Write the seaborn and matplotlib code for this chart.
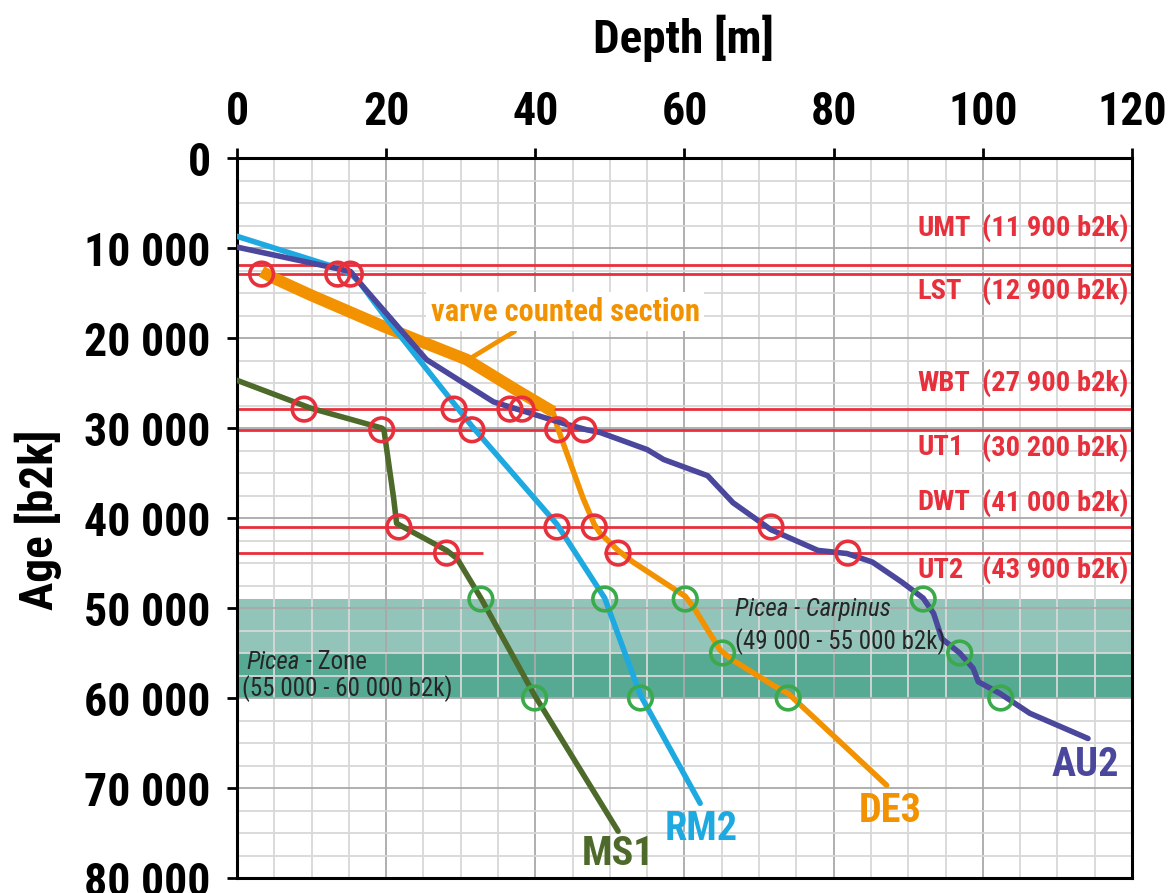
import matplotlib
matplotlib.use("Agg")
import matplotlib.pyplot as plt
from matplotlib import font_manager as fm
from matplotlib.ticker import MultipleLocator, FuncFormatter
import seaborn as sns

# ---- age-depth models (depth in m, age in years b2k) ----
au2_depth = [0.0, 15.2, 16.5, 25.4, 34.4, 43.8, 46.9, 48.7, 55.0, 57.2, 63.1, 66.5,
             71.6, 77.9, 81.8, 85.2, 89.1, 92.0, 93.4, 94.5, 96.9, 98.7, 99.4,
             102.3, 106.3, 114.1]
au2_age = [9900, 12600, 13900, 22400, 27100, 29500, 30200, 30500, 32400, 33500,
           35300, 38300, 41300, 43600, 43950, 44900, 47100, 48900, 50600, 53400,
           55000, 56700, 58200, 59500, 61700, 64500]

rm2_depth = [0.0, 13.8, 15.4, 16.5, 20.0, 31.5, 42.9, 49.3, 54.1, 62.1]
rm2_age = [8700, 12300, 13000, 13900, 17800, 29800, 40700, 48900, 59700, 71700]

ms1_depth = [0.0, 9.9, 19.4, 19.7, 21.0, 21.4, 28.1, 29.5, 32.7, 39.9, 51.1]
ms1_age = [24700, 27800, 30000, 30200, 37800, 40600, 43600, 44500, 48900, 59700, 74800]

de3_depth = [42.4, 43.0, 46.4, 47.9, 48.7, 51.1, 53.1, 60.1, 61.2, 64.8, 66.5,
             71.9, 73.9, 87.1]
de3_age = [28300, 30000, 37800, 40700, 41700, 43600, 44900, 48700, 49900, 54700,
           55800, 58600, 59500, 69700]

# varve counted part of DE3
varve_depth = [3.3, 4.8, 9.8, 19.6, 24.1, 30.8, 37.5, 42.4]
varve_age = [12600, 13300, 15200, 18700, 20200, 22400, 25800, 28200]

# ---- tephra layers ----
tephra_names = ["UMT", "LST", "WBT", "UT1", "DWT", "UT2"]
tephra_ages = [11900, 12900, 27900, 30200, 41000, 43900]
tephra_value_labels = ["(11 900 b2k)", "(12 900 b2k)", "(27 900 b2k)",
                       "(30 200 b2k)", "(41 000 b2k)", "(43 900 b2k)"]
tephra_label_ages = [7800, 14800, 25000, 32200, 38300, 45800]

# tephra found in the cores (depth, tephra age)
tephra_hit_depth = [3.3, 13.5, 15.2,
                    9.0, 29.1, 36.6, 38.2,
                    19.4, 31.5, 43.0, 46.5,
                    21.7, 42.9, 47.9, 71.6,
                    28.1, 51.1, 81.9]
tephra_hit_age = [12900, 12900, 12900,
                  27900, 27900, 27900, 27900,
                  30200, 30200, 30200, 30200,
                  41000, 41000, 41000, 41000,
                  43900, 43900, 43900]

# pollen zone boundaries found in the cores
pollen_hit_depth = [32.7, 49.3, 60.1, 92.0, 65.1, 96.9, 39.9, 54.1, 73.9, 102.4]
pollen_hit_age = [49000, 49000, 49000, 49000, 55000, 55000, 60000, 60000, 60000, 60000]

zone_carpinus = (49000, 55000)
zone_picea = (55000, 60000)

# ---- colours ----
RED = "#e8303c"
PURPLE = "#4a479c"
CYAN = "#1fa9e1"
ORANGE = "#f39200"
OLIVE = "#4e6a2a"
GREEN = "#3aaa4a"
BAND_LIGHT = "#93c4b9"
BAND_DARK = "#56a993"

# narrow sans-serif for all labels
_installed = {f.name for f in fm.fontManager.ttflist}
NARROW = next((f for f in ["Liberation Sans Narrow", "Nimbus Sans Narrow", "Arial Narrow",
                           "Roboto Condensed", "PT Sans Narrow", "Asap Condensed",
                           "Barlow Semi Condensed"] if f in _installed), "DejaVu Sans")

sns.set_style("white")
plt.rcParams["font.family"] = [NARROW, "DejaVu Sans"]
if NARROW == "DejaVu Sans":
    plt.rcParams["font.stretch"] = "condensed"

fig = plt.figure(figsize=(11.7, 8.93), dpi=100)
ax = fig.add_axes([237 / 1170, 15 / 893, 895 / 1170, 720 / 893])

# pollen zones
ax.axhspan(*zone_carpinus, color=BAND_LIGHT, lw=0, zorder=0.2)
ax.axhspan(*zone_picea, color=BAND_DARK, lw=0, zorder=0.2)

# tephra horizons
for name, age in zip(tephra_names, tephra_ages):
    if name == "UT2":
        ax.hlines(age, 0, 33.0, color=RED, lw=2.0, zorder=2)
        ax.hlines(age, 49.2, 120, color=RED, lw=2.0, zorder=2)
    else:
        ax.axhline(age, color=RED, lw=2.0, zorder=2)

for name, val, lab_age in zip(tephra_names, tephra_value_labels, tephra_label_ages):
    ax.text(91.2, lab_age, name, color=RED, fontsize=20.5, fontweight="bold",
            ha="left", va="center", zorder=5)
    ax.text(119.5, lab_age, val, color=RED, fontsize=20.5, fontweight="bold",
            ha="right", va="center", zorder=5)

# age-depth curves
line_kw = dict(sort=False, estimator=None, lw=4.0, zorder=3, solid_capstyle="round")
sns.lineplot(x=varve_depth, y=varve_age, ax=ax, color=ORANGE,
             sort=False, estimator=None, lw=8.5, zorder=3, solid_capstyle="butt")
sns.lineplot(x=ms1_depth, y=ms1_age, ax=ax, color=OLIVE, **line_kw)
sns.lineplot(x=de3_depth, y=de3_age, ax=ax, color=ORANGE, **line_kw)
sns.lineplot(x=rm2_depth, y=rm2_age, ax=ax, color=CYAN, **line_kw)
sns.lineplot(x=au2_depth, y=au2_age, ax=ax, color=PURPLE, **line_kw)

# tie points
sns.scatterplot(x=tephra_hit_depth, y=tephra_hit_age, ax=ax, marker="o", s=290,
                facecolors="none", edgecolors=RED, linewidths=2.6, zorder=4)
sns.scatterplot(x=pollen_hit_depth, y=pollen_hit_age, ax=ax, marker="o", s=290,
                facecolors="none", edgecolors=GREEN, linewidths=2.6, zorder=4)

# core names
core_labels = [("MS1", 51.1, 77300, OLIVE), ("RM2", 62.3, 74500, CYAN),
               ("DE3", 87.6, 72600, ORANGE), ("AU2", 113.7, 67400, PURPLE)]
for txt, x, y, c in core_labels:
    ax.text(x, y, txt, color=c, fontsize=29, fontweight="bold",
            ha="center", va="center", zorder=5)

# varve counted section label
ax.annotate("varve counted section", xy=(31.2, 22300), xytext=(44.0, 17100),
            color=ORANGE, fontsize=22, fontweight="bold", ha="center", va="center",
            bbox=dict(boxstyle="square,pad=0.15", fc="white", ec="none"),
            arrowprops=dict(arrowstyle="-", color=ORANGE, lw=3.4,
                            relpos=(0.34, 0.0), shrinkA=0, shrinkB=0),
            zorder=5)

# pollen zone labels
t1 = ax.text(1.3, 56000, "Picea", fontsize=18, fontstyle="italic",
             ha="left", va="center", zorder=5)
ax.annotate(" - Zone", xy=(1, 0), xycoords=t1, fontsize=18,
            ha="left", va="bottom", zorder=5)
ax.text(0.7, 58900, "(55 000 - 60 000 b2k)", fontsize=18,
        ha="left", va="center", zorder=5)
ax.text(66.8, 50100, "Picea - Carpinus", fontsize=18, fontstyle="italic",
        ha="left", va="center", zorder=5)
ax.text(66.8, 53700, "(49 000 - 55 000 b2k)", fontsize=18,
        ha="left", va="center", zorder=5)

# axes
ax.set_xlim(0, 120)
ax.set_ylim(80000, 0)
ax.xaxis.set_major_locator(MultipleLocator(20))
ax.xaxis.set_minor_locator(MultipleLocator(5))
ax.yaxis.set_major_locator(MultipleLocator(10000))
ax.yaxis.set_minor_locator(MultipleLocator(2500))
ax.yaxis.set_major_formatter(FuncFormatter(lambda v, p: f"{int(v):,}".replace(",", " ")))

ax.set_axisbelow(True)
ax.grid(which="major", color="#a9a9a9", lw=1.3)
ax.grid(which="minor", color="#d8d8d8", lw=1.3)

ax.xaxis.tick_top()
ax.xaxis.set_label_position("top")
ax.tick_params(which="major", direction="out", length=7, width=2, color="black",
               top=True, bottom=False, left=True, right=False,
               labeltop=True, labelbottom=False, labelsize=33, labelcolor="black", pad=10)
ax.tick_params(axis="y", pad=12)
ax.tick_params(which="minor", length=0)
for lab in ax.get_xticklabels() + ax.get_yticklabels():
    lab.set_fontweight("bold")

for sp in ax.spines.values():
    sp.set_visible(True)
    sp.set_color("black")
    sp.set_linewidth(2.2)

ax.set_xlabel("Depth [m]", fontsize=34, fontweight="bold", color="black")
ax.xaxis.label.set(ha="center", va="center")
ax.xaxis.set_label_coords(0.4994, 1.1667)
ax.set_ylabel("Age [b2k]", fontsize=34, fontweight="bold", color="black")
ax.yaxis.label.set(ha="center", va="center")
ax.yaxis.set_label_coords(-0.222, 0.497)

fig.savefig("out.png", dpi=100)
